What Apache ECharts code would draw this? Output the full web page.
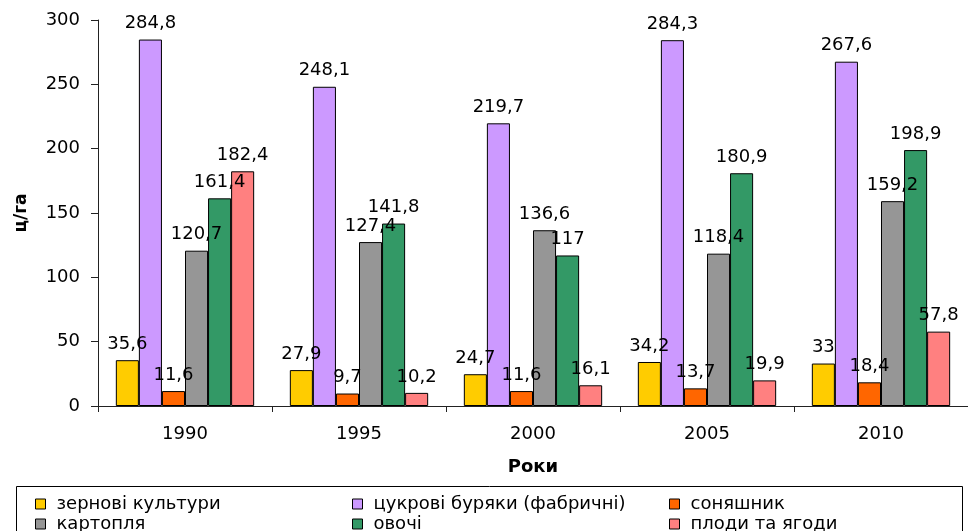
<!DOCTYPE html>
<html><head><meta charset="utf-8">
<script src="https://cdn.jsdelivr.net/npm/echarts@6/dist/echarts.min.js"></script>
<style>html,body{margin:0;padding:0;background:#fff}#c{width:968px;height:531px}</style>
</head><body><div id="c"></div>
<script>
var years = ['1990','1995','2000','2005','2010'];
var seriesNames = ['зернові культури','цукрові буряки (фабричні)','соняшник','картопля','овочі','плоди та ягоди'];
var grain = [35.6, 27.9, 24.7, 34.2, 33];
var sugarBeet = [284.8, 248.1, 219.7, 284.3, 267.6];
var sunflower = [11.6, 9.7, 11.6, 13.7, 18.4];
var potato = [120.7, 127.4, 136.6, 118.4, 159.2];
var vegetables = [161.4, 141.8, 117, 180.9, 198.9];
var fruits = [182.4, 10.2, 16.1, 19.9, 57.8];
var colors = ['#FFCC00','#CC99FF','#FF6600','#969696','#339966','#FF8080'];
var allData = [grain, sugarBeet, sunflower, potato, vegetables, fruits];

var font = 'DejaVu Sans, sans-serif';
var chart = echarts.init(document.getElementById('c'));
var series = seriesNames.map(function(n, i){
  return {
    name: n, type: 'bar', data: allData[i],
    barGap: '0%', barCategoryGap: '20.5%',
    itemStyle: {color: colors[i], borderColor: '#000', borderWidth: 1},
    label: {show: true, position: 'top', distance: 7, color: '#000', fontSize: 18, fontFamily: font,
      formatter: function(p){ return String(p.value).replace('.', ','); }}
  };
});
function legendCol(left, names){
  return {
    orient: 'vertical', left: left, top: 494, height: 60, width: 300, padding: 0,
    itemWidth: 10, itemHeight: 10, itemGap: 0,
    icon: 'rect', data: names, selectedMode: false,
    itemStyle: {borderColor: '#000', borderWidth: 1},
    textStyle: {fontSize: 18, lineHeight: 20, fontFamily: font, color: '#000', padding: [0,0,0,6]}
  };
}
chart.setOption({
  animation: false,
  color: colors,
  grid: {left: 98, top: 20, width: 880, height: 386, containLabel: false},
  xAxis: {
    type: 'category', data: years,
    name: 'Роки', nameLocation: 'middle', nameGap: 52,
    nameTextStyle: {fontSize: 18, fontWeight: 'bold', fontFamily: font, color: '#000'},
    axisLine: {lineStyle: {color: '#222', width: 1}},
    axisTick: {show: true, length: 6, lineStyle: {color: '#222'}},
    axisLabel: {fontSize: 18, fontFamily: font, color: '#000', margin: 19}
  },
  yAxis: {
    type: 'value', min: 0, max: 300, interval: 50,
    name: 'ц/га', nameLocation: 'middle', nameGap: 68, nameRotate: 90,
    nameTextStyle: {fontSize: 17, fontWeight: 'bold', fontFamily: font, color: '#000'},
    axisLine: {show: true, lineStyle: {color: '#222', width: 1}},
    axisTick: {show: true, length: 7, lineStyle: {color: '#222'}},
    axisLabel: {fontSize: 18, fontFamily: font, color: '#000', margin: 18},
    splitLine: {show: false}
  },
  legend: [
    legendCol(35, [seriesNames[0], seriesNames[3]]),
    legendCol(352, [seriesNames[1], seriesNames[4]]),
    legendCol(669, [seriesNames[2], seriesNames[5]])
  ],
  graphic: [{type: 'rect', shape: {x: 16.5, y: 486.5, width: 946, height: 60},
    style: {fill: 'none', stroke: '#000', lineWidth: 1}, z: -1}],
  series: series
});
</script></body></html>
